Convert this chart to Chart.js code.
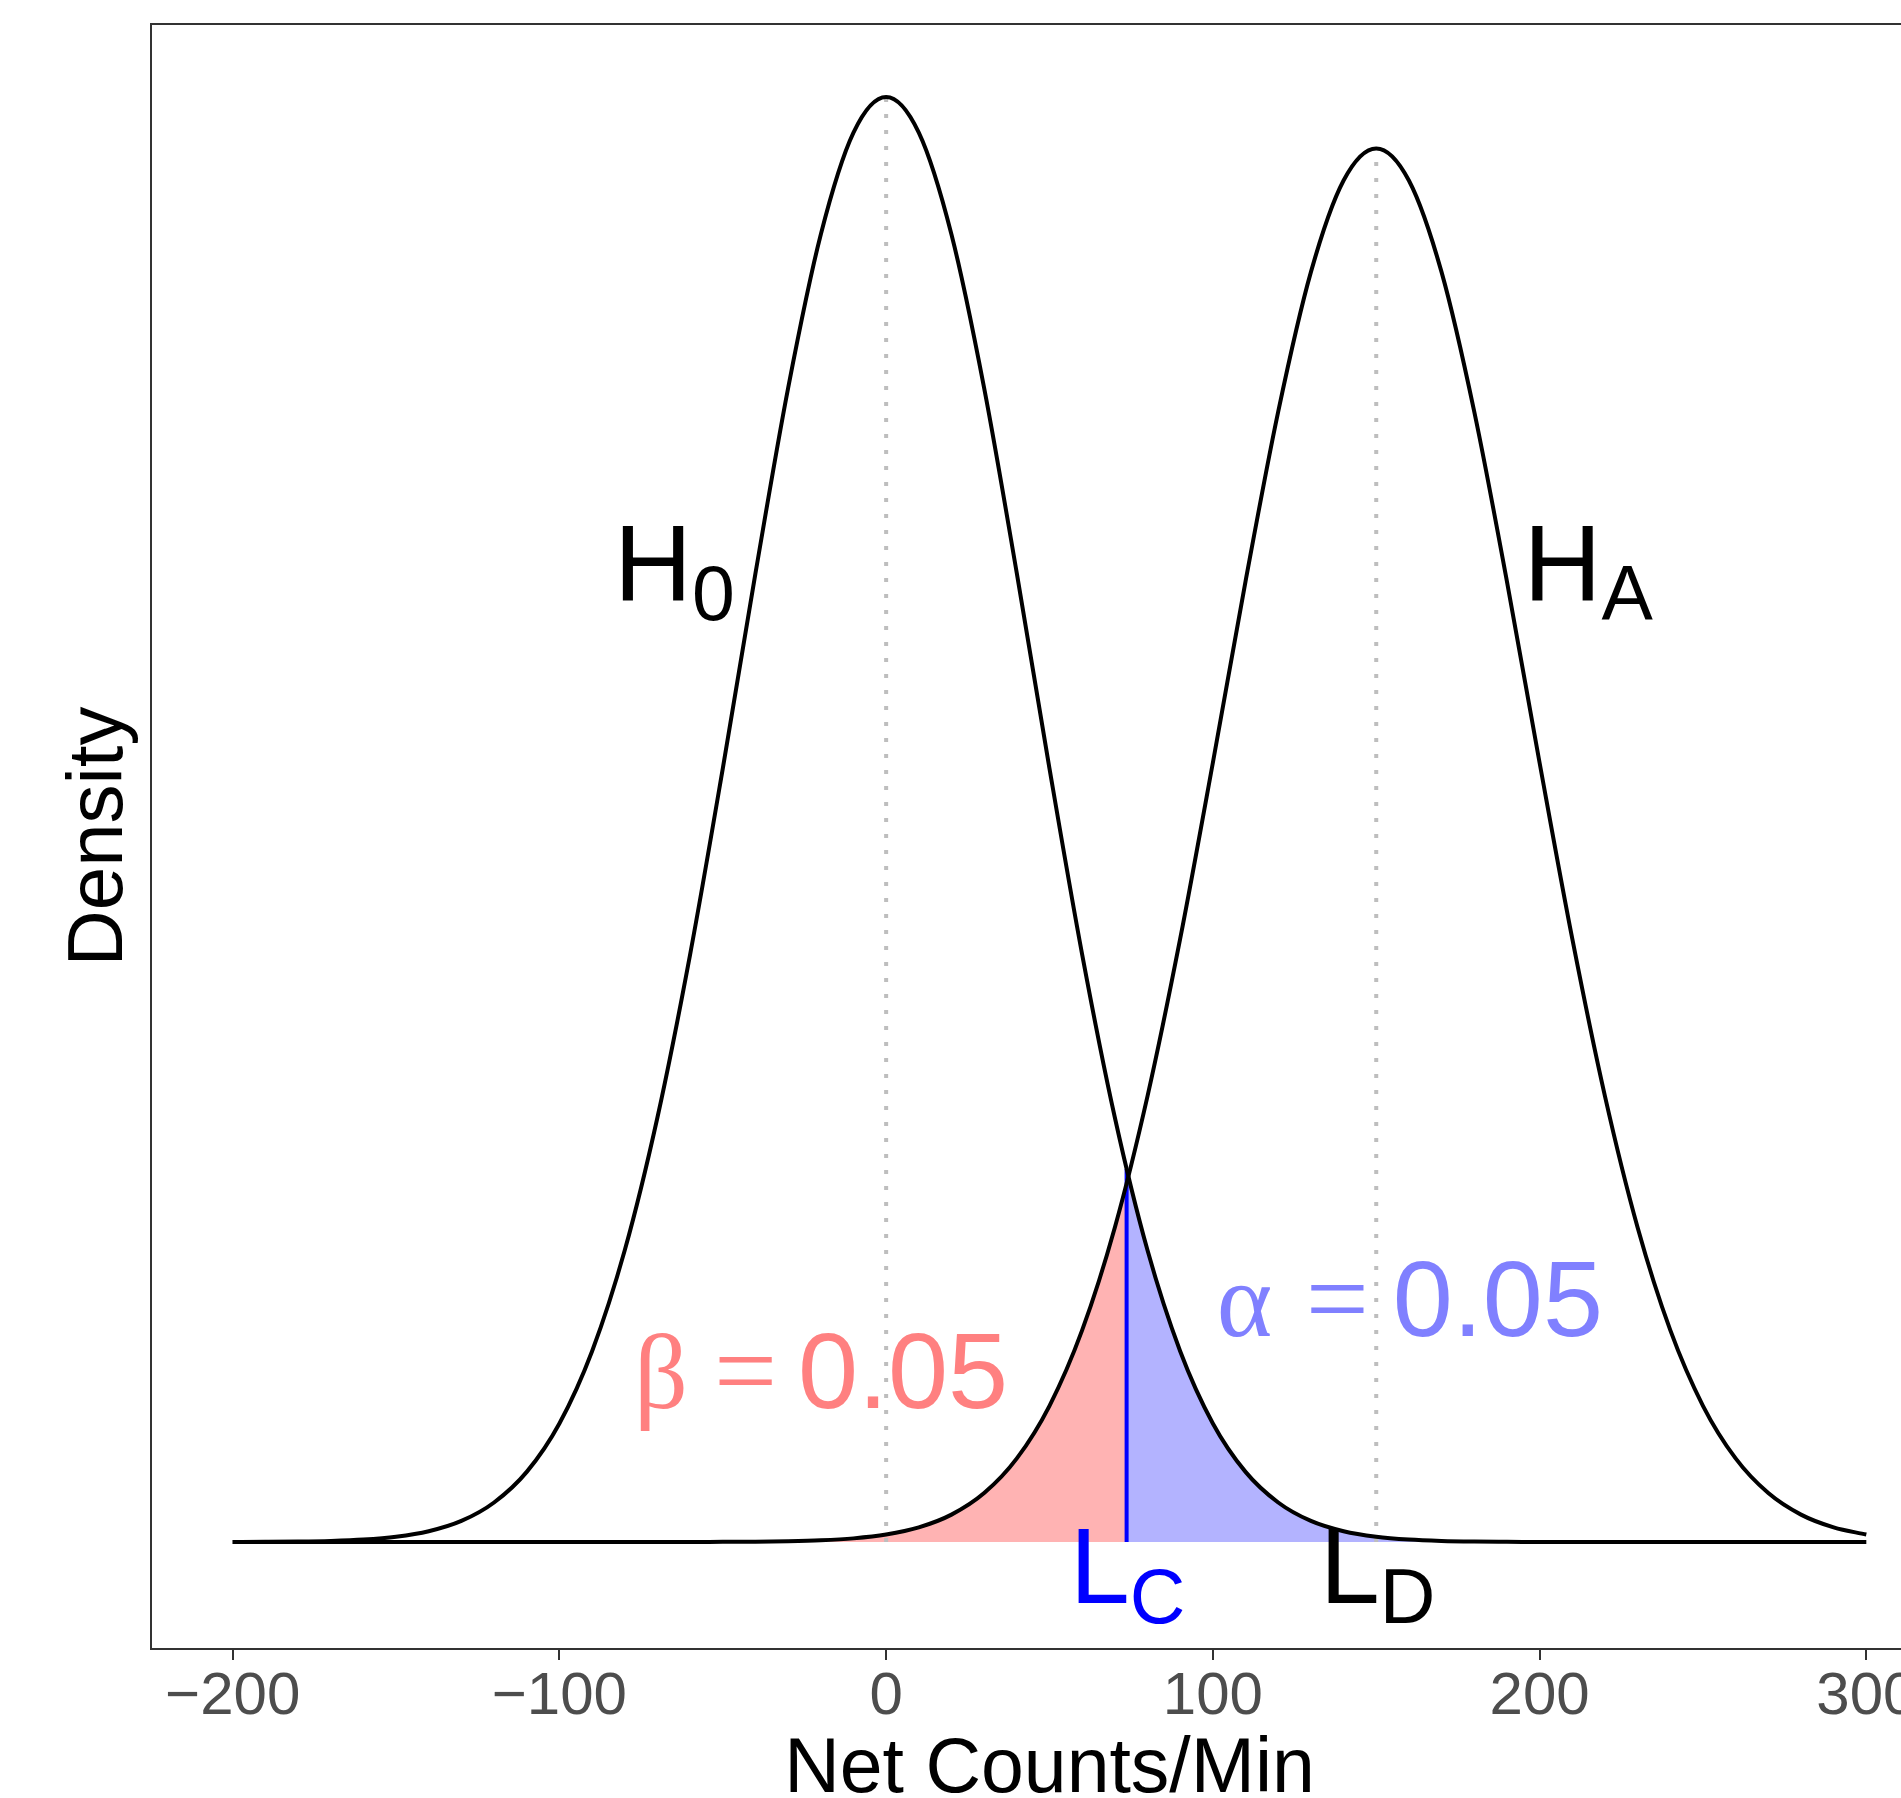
<!DOCTYPE html>
<html>
<head>
<meta charset="utf-8">
<script src="https://cdn.jsdelivr.net/npm/chart.js@4.4.0/dist/chart.umd.min.js"></script>
<style>
  html, body { margin: 0; padding: 0; background: #fff; overflow: hidden; }
  canvas { display: block; }
</style>
</head>
<body>
<canvas id="densityChart" width="2000" height="1798"></canvas>
<script>
// x grid (net counts/min) and the two densities
const xGrid = [-200, -190, -180, -170, -160, -150, -140, -130, -120, -110,
  -100, -90, -80, -70, -60, -50, -40, -30, -20, -10,
  0, 10, 20, 30, 40, 50, 60, 70, 80, 90,
  100, 110, 120, 130, 140, 150, 160, 170, 180, 190,
  200, 210, 220, 230, 240, 250, 260, 270, 280, 290, 300];

const h0Density = [0.0000004, 0.0000011, 0.0000027, 0.0000065, 0.0000148, 0.0000322, 0.0000664, 0.000130, 0.000244, 0.000433,
  0.000732, 0.001178, 0.001801, 0.002621, 0.003627, 0.004775, 0.005980, 0.007124, 0.008072, 0.008701,
  0.008921, 0.008701, 0.008072, 0.007124, 0.005980, 0.004775, 0.003627, 0.002621, 0.001801, 0.001178,
  0.000732, 0.000433, 0.000244, 0.000130, 0.0000664, 0.0000322, 0.0000148, 0.0000065, 0.0000027, 0.0000011,
  0.0000004, 0.0000001, 0, 0, 0, 0, 0, 0, 0, 0, 0];

const haDensity = [0, 0, 0, 0, 0, 0, 0, 0, 0, 0,
  0, 0, 0, 0.0000001, 0.0000003, 0.0000008, 0.0000019, 0.0000046, 0.0000104, 0.0000224,
  0.0000460, 0.0000902, 0.000169, 0.000302, 0.000516, 0.000841, 0.001308, 0.001942, 0.002753, 0.003725,
  0.004811, 0.005931, 0.006979, 0.007840, 0.008406, 0.008604, 0.008406, 0.007840, 0.006979, 0.005931,
  0.004811, 0.003725, 0.002753, 0.001942, 0.001308, 0.000841, 0.000516, 0.000302, 0.000169, 0.0000902, 0.0000460];

const xTicks = [-200, -100, 0, 100, 200, 300];

// means, critical level and the densities there
const h0Mean = 0, h0Peak = 0.008921;
const haMean = 150, haPeak = 0.008604;
const lcValue = 73.6, h0AtLc = 0.002303, haAtLc = 0.002214;

const sansFont = '"Liberation Sans", Arial, Helvetica, sans-serif';
const greekFont = '"Liberation Serif", "DejaVu Serif", serif';

const h0Points = xGrid.map((x, i) => ({ x: x, y: h0Density[i] }));
const haPoints = xGrid.map((x, i) => ({ x: x, y: haDensity[i] }));
const alphaFill = [{ x: lcValue, y: h0AtLc }].concat(h0Points.filter(p => p.x > lcValue));
const betaFill = haPoints.filter(p => p.x < lcValue).concat([{ x: lcValue, y: haAtLc }]);

// frame, axis titles and annotations
const annotations = {
  id: 'annotations',
  afterDraw(chart) {
    const ctx = chart.ctx;
    const area = chart.chartArea;
    const xs = chart.scales.x;
    const ys = chart.scales.y;

    ctx.save();
    ctx.strokeStyle = '#333333';
    ctx.lineWidth = 2;
    ctx.strokeRect(area.left, area.top, area.right - area.left, area.bottom - area.top);

    ctx.fillStyle = '#000';
    ctx.textBaseline = 'alphabetic';
    ctx.textAlign = 'center';
    ctx.font = '77px ' + sansFont;
    ctx.fillText('Net Counts/Min', (area.left + area.right) / 2, 1792);

    ctx.save();
    ctx.translate(122, (area.top + area.bottom) / 2);
    ctx.rotate(-Math.PI / 2);
    ctx.font = '78px ' + sansFont;
    ctx.fillText('Density', 0, 0);
    ctx.restore();

    ctx.textAlign = 'left';

    function subLabel(main, sub, xv, yv, color) {
      const px = xs.getPixelForValue(xv);
      const py = ys.getPixelForValue(yv);
      ctx.fillStyle = color;
      ctx.font = '108px ' + sansFont;
      ctx.fillText(main, px, py);
      const w = ctx.measureText(main).width;
      ctx.font = '77px ' + sansFont;
      ctx.fillText(sub, px + w, py + 20);
    }
    subLabel('H', '0', -83.3, 0.005816, '#000');
    subLabel('H', 'A', 195.1, 0.005816, '#000');
    subLabel('L', 'C', 56.2, -0.000377, '#0000FF');
    subLabel('L', 'D', 132.7, -0.000377, '#000');

    function eqLabel(sym, xv, yv, eqDx, numDx, color) {
      const px = xs.getPixelForValue(xv);
      const py = ys.getPixelForValue(yv);
      ctx.fillStyle = color;
      ctx.font = '106px ' + greekFont;
      ctx.fillText(sym, px, py);
      ctx.font = '112px ' + greekFont;
      ctx.fillText('=', px + eqDx, py);
      ctx.font = '108px ' + sansFont;
      ctx.fillText('0.05', px + numDx, py);
    }
    eqLabel('\u03B2', -77.2, 0.000827, 80, 164, '#FF8080');
    eqLabel('\u03B1', 101.2, 0.001272, 89, 176, '#8080FF');

    ctx.restore();
  }
};

const ctx = document.getElementById('densityChart').getContext('2d');
new Chart(ctx, {
  type: 'line',
  data: {
    datasets: [
      {
        data: alphaFill,
        borderColor: 'transparent',
        borderWidth: 0,
        backgroundColor: '#B3B3FF',
        fill: 'origin',
        pointRadius: 0,
        cubicInterpolationMode: 'monotone',
        order: 5
      },
      {
        data: betaFill,
        borderColor: 'transparent',
        borderWidth: 0,
        backgroundColor: '#FFB3B3',
        fill: 'origin',
        pointRadius: 0,
        cubicInterpolationMode: 'monotone',
        order: 5
      },
      {
        data: [{ x: h0Mean, y: 0 }, { x: h0Mean, y: h0Peak }],
        borderColor: '#BEBEBE',
        borderWidth: 4,
        borderDash: [4, 12],
        pointRadius: 0,
        fill: false,
        order: 4
      },
      {
        data: [{ x: haMean, y: 0 }, { x: haMean, y: haPeak }],
        borderColor: '#BEBEBE',
        borderWidth: 4,
        borderDash: [4, 12],
        pointRadius: 0,
        fill: false,
        order: 4
      },
      {
        data: [{ x: lcValue, y: 0 }, { x: lcValue, y: h0AtLc }],
        borderColor: '#0000FF',
        borderWidth: 4,
        pointRadius: 0,
        fill: false,
        order: 3
      },
      {
        data: h0Points,
        borderColor: '#000',
        borderWidth: 4,
        pointRadius: 0,
        fill: false,
        cubicInterpolationMode: 'monotone',
        order: 1
      },
      {
        data: haPoints,
        borderColor: '#000',
        borderWidth: 4,
        pointRadius: 0,
        fill: false,
        cubicInterpolationMode: 'monotone',
        order: 1
      }
    ]
  },
  options: {
    responsive: false,
    animation: false,
    devicePixelRatio: 1,
    layout: { padding: { left: 151, top: 24, right: 52, bottom: 0 } },
    plugins: { legend: { display: false }, tooltip: { enabled: false } },
    scales: {
      x: {
        type: 'linear',
        min: -225,
        max: 325,
        afterBuildTicks: scale => { scale.ticks = xTicks.map(v => ({ value: v })); },
        afterFit: scale => { scale.height = 149; },
        grid: { drawOnChartArea: false, drawTicks: true, tickLength: 11, color: '#333333', lineWidth: 2 },
        border: { display: false },
        ticks: {
          font: { family: sansFont, size: 60 },
          color: '#4D4D4D',
          padding: 1,
          maxRotation: 0,
          callback: v => String(v).replace('-', '\u2212')
        }
      },
      y: {
        display: false,
        min: -0.0006606,
        max: 0.009372
      }
    }
  },
  plugins: [annotations]
});
</script>
</body>
</html>
